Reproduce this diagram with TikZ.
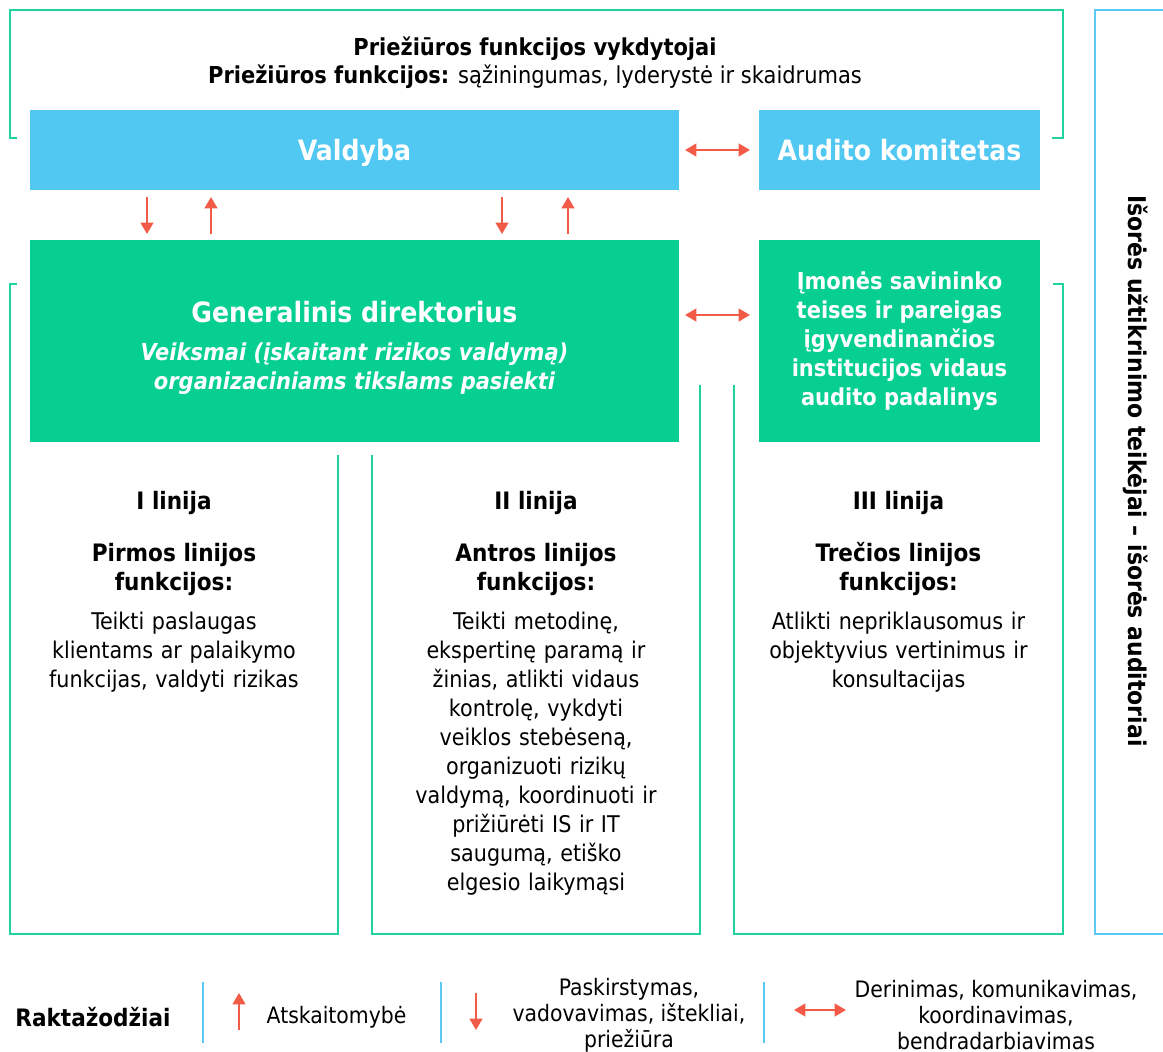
\documentclass[tikz,border=0pt]{standalone}
\usepackage{fontspec}
\setmainfont{DejaVu Sans Condensed}
\usetikzlibrary{arrows.meta}

\definecolor{skyblue}{HTML}{50C8F2}
\definecolor{mint}{HTML}{06CF91}
\definecolor{mintline}{HTML}{1ED49C}
\definecolor{blueline}{HTML}{5CC9F5}
\definecolor{arrowred}{HTML}{F15B47}

\newcommand{\bodysize}{\fontsize{17.25}{21.75}\selectfont}
\newcommand{\headsize}{\fontsize{18}{21.75}\selectfont}

\tikzset{
  bluebox/.style={fill=skyblue, inner sep=0pt, outer sep=0pt, text=white, text depth=0pt, font=\fontsize{21}{25}\selectfont\bfseries},
  greenbox/.style={fill=mint, inner sep=0pt, outer sep=0pt, text=white},
  bracket/.style={draw=mintline, line width=1.6pt},
  extline/.style={draw=blueline, line width=1.6pt},
  redarr/.style={draw=arrowred, line width=1.6pt, -{Triangle[length=8.5pt,width=9.5pt]}},
  redboth/.style={draw=arrowred, line width=1.6pt, {Triangle[length=8.5pt,width=9.5pt]}-{Triangle[length=8.5pt,width=9.5pt]}},
  coltext/.style={align=center, text width=240pt, anchor=north, font=\bodysize},
  legtext/.style={align=center, font=\fontsize{17}{19.5}\selectfont},
}

\begin{document}
\begin{tikzpicture}[x=0.75pt, y=-0.75pt]

    \useasboundingbox (0,0) rectangle (1163,1052);

    % Supervision bracket and title
    \draw[bracket] (17,138) -- (10,138) -- (10,10) -- (1063,10) -- (1063,138) -- (1052,138);
    \node[align=center, anchor=north, font=\fontsize{17.5}{21}\selectfont] (title) at (535,32)
        {\textbf{Priežiūros funkcijos vykdytojai}\\
         \textbf{Priežiūros funkcijos:} sąžiningumas, lyderystė ir skaidrumas};

    % Board and audit committee
    \node[bluebox, minimum width=486.75pt, minimum height=60pt] (valdyba) at (354.5,150) {Valdyba};
    \node[bluebox, minimum width=210.75pt, minimum height=60pt] (audito) at (899.5,150) {Audito komitetas};

    % General director and internal audit unit
    \node[greenbox, minimum width=486.75pt, minimum height=151.5pt] (gd) at (354.5,341) {};
    \node[text=white, font=\fontsize{21}{25}\selectfont\bfseries] (gdtitle) at ([yshift=21.75pt]gd.center) {Generalinis direktorius};
    \node[text=white, align=center, font=\fontsize{17.5}{21.75}\selectfont\bfseries\itshape] (gdnote) at ([yshift=-20.6pt]gd.center)
        {Veiksmai (įskaitant rizikos valdymą)\\organizaciniams tikslams pasiekti};
    \node[greenbox, minimum width=210.75pt, minimum height=151.5pt, align=center, font=\fontsize{17.5}{21.75}\selectfont\bfseries] (imone) at (899.5,341)
        {Įmonės savininko\\teises ir pareigas\\įgyvendinančios\\institucijos vidaus\\audito padalinys};

    % Arrows between board and director
    \draw[redarr, shorten <=5.25pt, shorten >=4.5pt] ([xshift=87.75pt]valdyba.south west) -- ([xshift=87.75pt]gd.north west);
    \draw[redarr, shorten <=4.5pt, shorten >=5.25pt] ([xshift=135.75pt]gd.north west) -- ([xshift=135.75pt]valdyba.south west);
    \draw[redarr, shorten <=5.25pt, shorten >=4.5pt] ([xshift=354pt]valdyba.south west) -- ([xshift=354pt]gd.north west);
    \draw[redarr, shorten <=4.5pt, shorten >=5.25pt] ([xshift=403.5pt]gd.north west) -- ([xshift=403.5pt]valdyba.south west);

    % Coordination arrows
    \draw[redboth, shorten <=4.5pt, shorten >=6.75pt] (valdyba.east) -- (audito.west);
    \draw[redboth, shorten <=4.5pt, shorten >=6.75pt] ([yshift=19.5pt]gd.east) -- ([yshift=19.5pt]imone.west);

    % Lines of defence
    \draw[bracket] (17,284) -- (10,284) -- (10,934) -- (338,934) -- (338,455);
    \draw[bracket] (372,455) -- (372,934) -- (700,934) -- (700,385);
    \draw[bracket] (734,385) -- (734,934) -- (1063,934) -- (1063,284) -- (1053,284);

    \node[coltext] (linija1) at (174,487)
        {\headsize\bfseries I linija\\[17.25pt]
         Pirmos linijos\\funkcijos:\\[7.5pt]
         \bodysize\mdseries Teikti paslaugas\\klientams ar palaikymo\\funkcijas, valdyti rizikas};
    \node[coltext] (linija2) at (536,487)
        {\headsize\bfseries II linija\\[17.25pt]
         Antros linijos\\funkcijos:\\[7.5pt]
         \bodysize\mdseries Teikti metodinę,\\ekspertinę paramą ir\\žinias, atlikti vidaus\\kontrolę, vykdyti\\veiklos stebėseną,\\organizuoti rizikų\\valdymą, koordinuoti ir\\prižiūrėti IS ir IT\\saugumą, etiško\\elgesio laikymąsi};
    \node[coltext] (linija3) at (898.5,487)
        {\headsize\bfseries III linija\\[17.25pt]
         Trečios linijos\\funkcijos:\\[7.5pt]
         \bodysize\mdseries Atlikti nepriklausomus ir\\objektyvius vertinimus ir\\konsultacijas};

    % External assurance
    \draw[extline] (1175,10) -- (1095,10) -- (1095,934) -- (1175,934);
    \node[rotate=-90, font=\fontsize{18.3}{21}\selectfont\bfseries] (isore) at (1136,471)
        {Išorės užtikrinimo teikėjai – išorės auditoriai};

    % Legend
    \node[font=\fontsize{18}{21}\selectfont\bfseries] (rakt) at (93,1017) {Raktažodžiai};
    \draw[extline] (203,982) -- (203,1043);
    \draw[extline] (441,982) -- (441,1043);
    \draw[extline] (764,982) -- (764,1043);

    \coordinate (upfrom) at (239,1030);
    \coordinate (upto) at (239,993);
    \draw[redarr] (upfrom) -- (upto);
    \node[legtext, anchor=west] (atsk) at (262,1017) {Atskaitomybė};

    \coordinate (downfrom) at (476,993);
    \coordinate (downto) at (476,1030);
    \draw[redarr] (downfrom) -- (downto);
    \node[legtext] (pask) at (629,1015) {Paskirstymas,\\vadovavimas, ištekliai,\\priežiūra};

    \coordinate (bothfrom) at (794,1010);
    \coordinate (bothto) at (846,1010);
    \draw[redboth] (bothfrom) -- (bothto);
    \node[legtext] (derin) at (996,1015) {Derinimas, komunikavimas,\\koordinavimas,\\bendradarbiavimas};

\end{tikzpicture}
\end{document}
